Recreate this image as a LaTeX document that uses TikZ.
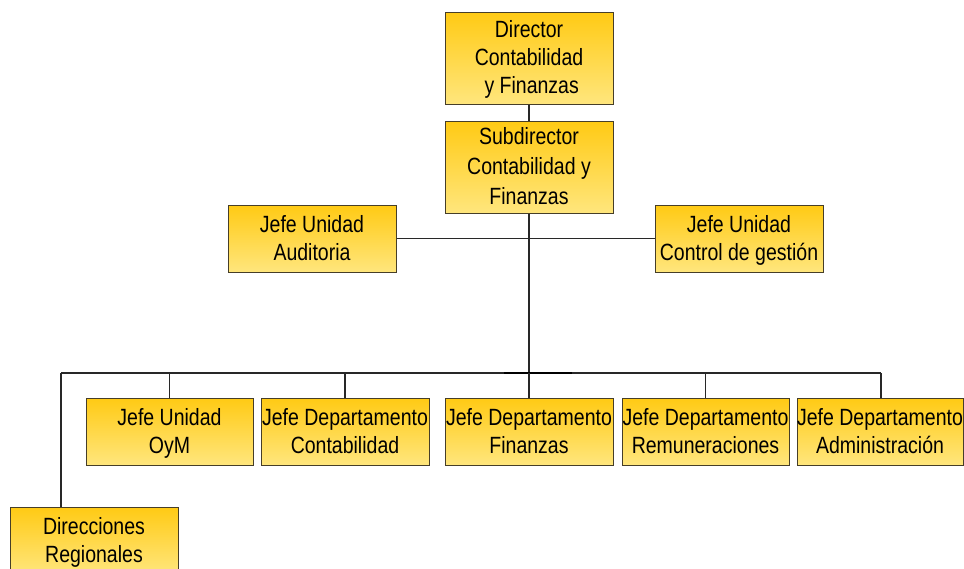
\documentclass[tikz,border=0pt]{standalone}
\usepackage{fontspec}
\newfontfamily\narrowfont[FakeStretch=0.83]{Liberation Sans}
\definecolor{boxtop}{RGB}{255,202,20}
\definecolor{boxbot}{RGB}{255,230,125}
\definecolor{boxline}{RGB}{70,62,40}
\definecolor{conn}{RGB}{40,40,40}
\newcommand\boxtxt[1]{\raisebox{-2pt}[\height][\depth]{\begin{tabular}{@{}c@{}}#1\end{tabular}}}
\begin{document}
\begin{tikzpicture}[x=1pt,y=-1pt,
  orgbox/.style={draw=boxline, line width=1pt, top color=boxtop, bottom color=boxbot,
    minimum width=168pt, minimum height=67pt, inner sep=0pt,
    font=\narrowfont\fontsize{23.5}{28}\selectfont, text=black},
  tallbox/.style={orgbox, minimum height=92pt},
  link/.style={draw=conn, line width=1.1pt}]
\useasboundingbox (0,0) rectangle (964,568);
\fill[white] (0,0) rectangle (964,568);
\node[tallbox] (dir) at (529,58) {\boxtxt{Director\\Contabilidad\\\ y Finanzas}};
\node[tallbox] (sub) at (529,167) {\boxtxt{Subdirector\\[2pt]Contabilidad y\\[2pt]Finanzas}};
\node[orgbox] (aud) at (312,238.5) {\boxtxt{Jefe Unidad\\Auditoria}};
\node[orgbox] (ctl) at (739,238.5) {\boxtxt{Jefe Unidad\\Control de gestión}};
\node[orgbox, minimum width=167pt] (oym) at (169.5,431.5) {\boxtxt{Jefe Unidad\\OyM}};
\node[orgbox] (con) at (345,431.5) {\boxtxt{Jefe Departamento\\Contabilidad}};
\node[orgbox] (fin) at (529,431.5) {\boxtxt{Jefe Departamento\\Finanzas}};
\node[orgbox, minimum width=167pt] (rem) at (705.5,431.5) {\boxtxt{Jefe Departamento\\Remuneraciones}};
\node[orgbox, minimum width=166pt] (adm) at (880,431.5) {\boxtxt{Jefe Departamento\\Administración}};
\node[orgbox] (dr) at (94,540.5) {\boxtxt{Direcciones\\Regionales}};
\coordinate (busL) at (61,373);
\coordinate (busR) at (881,373);
\coordinate (tk1) at (504,373);
\coordinate (tk2) at (572,373);
\draw[link] (dir.south) -- (sub.north);
\draw[link] (aud.east) -- (ctl.west);
\draw[link] (sub.south) -- (sub.south |- busL);
\draw[link] (busL) -- (busR);
\draw[line width=2.6pt, draw=black] (tk1) -- (tk2);
\draw[link] (oym.north) -- (oym.north |- busL);
\draw[link] (con.north) -- (con.north |- busL);
\draw[link] (fin.north) -- (fin.north |- busL);
\draw[link] (rem.north) -- (rem.north |- busL);
\draw[link] (busR) -- (busR |- adm.north);
\draw[link] (busL) -- (busL |- dr.north);
\end{tikzpicture}
\end{document}
